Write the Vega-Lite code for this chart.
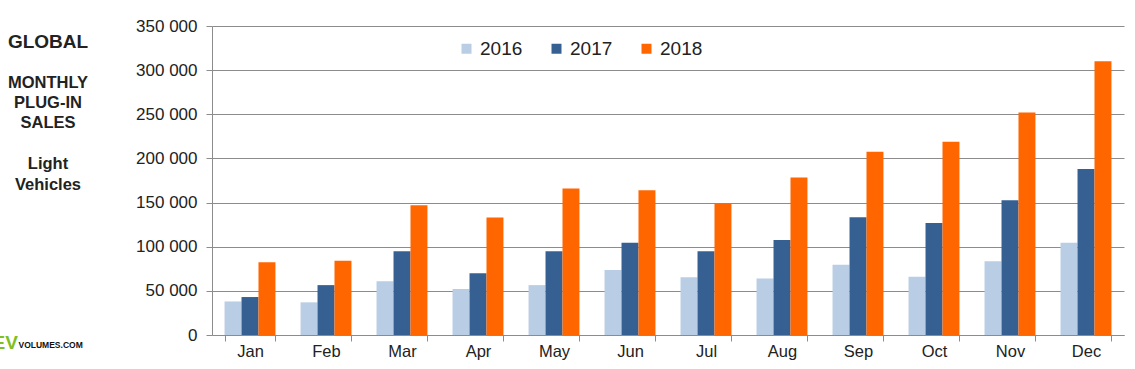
{
  "$schema": "https://vega.github.io/schema/vega-lite/v6.json",
  "autosize": {"type": "none"},
  "width": 912,
  "height": 309,
  "padding": {"left": 212, "top": 26, "right": 11, "bottom": 34},
  "background": "white",
  "config": {
    "font": "Liberation Sans",
    "view": {"stroke": null},
    "locale": {"number": {"decimal": ",", "thousands": " ", "grouping": [3], "currency": ["", ""]}}
  },
  "title": {
    "text": "GLOBAL",
    "subtitle": ["MONTHLY", "PLUG-IN", "SALES", "\u200b", "Light", "Vehicles"],
    "orient": "top",
    "anchor": "start",
    "frame": "group",
    "align": "center",
    "dx": -164,
    "dy": 180,
    "font": "Liberation Sans",
    "fontSize": 19,
    "fontWeight": "bold",
    "color": "#222222",
    "subtitleFont": "Liberation Sans",
    "subtitleFontSize": 16.5,
    "subtitleFontWeight": "bold",
    "subtitleColor": "#222222",
    "subtitleLineHeight": 20.4,
    "subtitlePadding": 23
  },
  "data": {
    "values": [
      {"month": "Jan", "year": "2016", "sales": 38000},
      {"month": "Jan", "year": "2017", "sales": 43000},
      {"month": "Jan", "year": "2018", "sales": 82500},
      {"month": "Feb", "year": "2016", "sales": 37000},
      {"month": "Feb", "year": "2017", "sales": 56500},
      {"month": "Feb", "year": "2018", "sales": 84000},
      {"month": "Mar", "year": "2016", "sales": 61000},
      {"month": "Mar", "year": "2017", "sales": 95000},
      {"month": "Mar", "year": "2018", "sales": 147000},
      {"month": "Apr", "year": "2016", "sales": 52000},
      {"month": "Apr", "year": "2017", "sales": 70000},
      {"month": "Apr", "year": "2018", "sales": 133000},
      {"month": "May", "year": "2016", "sales": 56500},
      {"month": "May", "year": "2017", "sales": 95000},
      {"month": "May", "year": "2018", "sales": 166000},
      {"month": "Jun", "year": "2016", "sales": 73500},
      {"month": "Jun", "year": "2017", "sales": 104500},
      {"month": "Jun", "year": "2018", "sales": 164000},
      {"month": "Jul", "year": "2016", "sales": 65500},
      {"month": "Jul", "year": "2017", "sales": 95000},
      {"month": "Jul", "year": "2018", "sales": 149000},
      {"month": "Aug", "year": "2016", "sales": 64000},
      {"month": "Aug", "year": "2017", "sales": 107500},
      {"month": "Aug", "year": "2018", "sales": 178500},
      {"month": "Sep", "year": "2016", "sales": 79500},
      {"month": "Sep", "year": "2017", "sales": 133500},
      {"month": "Sep", "year": "2018", "sales": 207500},
      {"month": "Oct", "year": "2016", "sales": 66000},
      {"month": "Oct", "year": "2017", "sales": 127000},
      {"month": "Oct", "year": "2018", "sales": 219000},
      {"month": "Nov", "year": "2016", "sales": 83500},
      {"month": "Nov", "year": "2017", "sales": 152500},
      {"month": "Nov", "year": "2018", "sales": 252000},
      {"month": "Dec", "year": "2016", "sales": 104500},
      {"month": "Dec", "year": "2017", "sales": 188000},
      {"month": "Dec", "year": "2018", "sales": 310000}
    ]
  },
  "mark": {"type": "bar"},
  "encoding": {
    "x": {
      "field": "month",
      "type": "nominal",
      "sort": ["Jan", "Feb", "Mar", "Apr", "May", "Jun", "Jul", "Aug", "Sep", "Oct", "Nov", "Dec"],
      "scale": {"paddingInner": 0.33, "paddingOuter": 0.165},
      "axis": {
        "title": "EV",
        "titleColor": "#7fbf1f",
        "titleFontSize": 19,
        "titleFontWeight": "bold",
        "titleFont": "Liberation Sans",
        "titleAlign": "left",
        "titleBaseline": "alphabetic",
        "titleAnchor": "start",
        "titleX": -220,
        "titleY": 13,
        "labelAngle": 0,
        "labelFontSize": 16.5,
        "labelColor": "#222222",
        "labelPadding": 2,
        "tickBand": "extent",
        "tickSize": 6,
        "tickColor": "#8c8c8c",
        "domainColor": "#8c8c8c",
        "grid": false
      }
    },
    "xOffset": {"field": "year", "type": "nominal", "scale": {"paddingInner": 0, "paddingOuter": 0}},
    "y": {
      "field": "sales",
      "type": "quantitative",
      "scale": {"domain": [0, 350000], "nice": false},
      "axis": {
        "title": "VOLUMES.COM",
        "titleAngle": 0,
        "titleFontSize": 8.5,
        "titleFontWeight": "bold",
        "titleColor": "#111111",
        "titleFont": "Liberation Sans",
        "titleAlign": "left",
        "titleBaseline": "alphabetic",
        "titleAnchor": "start",
        "titleX": -194,
        "titleY": 321,
        "values": [0, 50000, 100000, 150000, 200000, 250000, 300000, 350000],
        "format": ",d",
        "labelFontSize": 17,
        "labelColor": "#222222",
        "labelPadding": 9,
        "tickSize": 6,
        "tickColor": "#8c8c8c",
        "domainColor": "#8c8c8c",
        "grid": true,
        "gridColor": "#8c8c8c",
        "gridOpacity": 1
      }
    },
    "color": {
      "field": "year",
      "type": "nominal",
      "scale": {"domain": ["2016", "2017", "2018"], "range": ["#B9CDE5", "#376092", "#FF6600"]},
      "legend": {
        "title": null,
        "orient": "none",
        "legendX": 245,
        "legendY": 13,
        "direction": "horizontal",
        "symbolType": "square",
        "symbolSize": 100,
        "symbolStrokeWidth": 0,
        "symbolOpacity": 1,
        "labelFontSize": 19,
        "labelColor": "#222222",
        "labelOffset": 4,
        "columnPadding": 24,
        "padding": 0
      }
    }
  }
}
